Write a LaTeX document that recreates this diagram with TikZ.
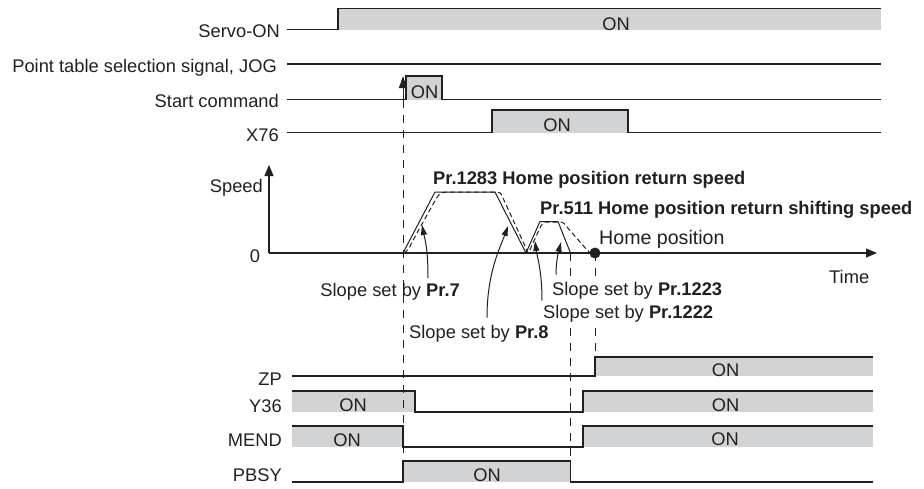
\documentclass[tikz,border=0pt]{standalone}
\usepackage{fontspec}
\setmainfont{Liberation Sans}
\usetikzlibrary{arrows.meta}
\definecolor{onfill}{RGB}{209,211,212}
\definecolor{ink}{RGB}{35,31,32}
\newcommand{\drawon}[4]{
    % gray band of a signal while it is ON: x from #1 to #2, top #3, bottom #4
    \fill[onfill] (#1,#3) rectangle (#2,#4);
}

\begin{document}
\begin{tikzpicture}[x=1pt,y=-1pt,
    sig/.style={ink,line width=1.1pt},
    guide/.style={ink,line width=1pt,dash pattern=on 8pt off 7pt},
    lbl/.style={anchor=base east,text=ink,inner sep=0pt},
    note/.style={anchor=base west,text=ink,inner sep=0pt},
    ontext/.style={anchor=base,text=ink,inner sep=0pt},
    pointer/.style={ink,line width=1pt,-{Triangle[length=10pt,width=6pt]}},
    font=\fontsize{18.3}{22}\selectfont]
    \useasboundingbox (0,0) rectangle (924,488);

    % gray bands
    \drawon{338}{881}{8.5}{29.5}
    \drawon{406}{442}{76}{99.5}
    \drawon{492}{628}{110}{132.5}
    \drawon{595}{873}{357}{376}
    \drawon{292}{415}{391}{412}
    \drawon{583}{873}{391}{412}
    \drawon{292}{403}{426}{447}
    \drawon{583}{873}{426}{447}
    \drawon{403}{570.5}{461}{482}

    % upper signals
    \draw[sig] (287,29.5) -- (338,29.5) -- (338,8.5) -- (881,8.5);
    \draw[sig] (287,64) -- (881,64);
    \draw[sig] (287,99.5) -- (406,99.5) -- (406,76) -- (442,76) -- (442,99.5) -- (881,99.5);
    \draw[sig] (287,132.5) -- (492,132.5) -- (492,110) -- (628,110) -- (628,132.5) -- (881,132.5);

    % lower signals
    \draw[sig] (292,376) -- (595,376) -- (595,357) -- (873,357);
    \draw[sig] (292,391) -- (415,391) -- (415,412) -- (583,412) -- (583,391) -- (873,391);
    \draw[sig] (292,426) -- (403,426) -- (403,447) -- (583,447) -- (583,426) -- (873,426);
    \draw[sig] (292,482) -- (403,482) -- (403,461) -- (570.5,461) -- (570.5,482) -- (873,482);

    % speed axes
    \coordinate (origin) at (269,253);
    \draw[sig,-{Triangle[length=11pt,width=9pt]}] (origin) -- (269,165);
    \draw[sig,-{Triangle[length=11pt,width=9pt]}] (origin) -- (877,253);

    % speed pattern, solid and dashed
    \draw[ink,line width=1pt] (403,253) -- (435,192) -- (495,192) -- (526,253) -- (540,221.5) -- (558,221.5) -- (570.5,253);
    \draw[ink,line width=1pt,dash pattern=on 5pt off 3pt] (404,253) .. controls (409,249) .. (412,242) -- (436,199)
        .. controls (440,193) .. (446,192) -- (497,192) .. controls (501,193) .. (503,198) -- (525,246)
        .. controls (527,251) .. (528,253) .. controls (530,250) .. (532,245) -- (540,228)
        .. controls (543,222) .. (548,222) -- (558,222) .. controls (563,222) .. (567,227) -- (587,250)
        .. controls (590,253) .. (594,253);
    \fill[ink] (595,253) circle[radius=5.5pt];

    % timing guides
    \draw[guide] (403,100) -- (403,482);
    \draw[guide] (570.5,253) -- (570.5,482);
    \draw[guide] (595,253) -- (595,357);
    \draw[ink,line width=1pt,-{Triangle[length=12pt,width=8pt]}] (403,100) -- (403,76);

    % signal names
    \node[lbl] (servo) at (280,37.5) {Servo-ON};
    \node[lbl] (ptsel) at (277,72.5) {Point table selection signal, JOG};
    \node[lbl] (start) at (279,107) {Start command};
    \node[lbl] (x76) at (279,141) {X76};
    \node[lbl] (zp) at (282,385) {ZP};
    \node[lbl] (y36) at (282,412.5) {Y36};
    \node[lbl] (mend) at (282,446.5) {MEND};
    \node[lbl] (pbsy) at (282,481.5) {PBSY};

    % ON texts
    \node[ontext] (servoon) at (616,30.5) {ON};
    \node[ontext] (starton) at (424.5,98) {ON};
    \node[ontext] (x76on) at (557,131.5) {ON};
    \node[ontext] (zpon) at (725.5,376) {ON};
    \node[ontext] (y36on) at (353,411) {ON};
    \node[ontext] (y36on2) at (725.5,411) {ON};
    \node[ontext] (mendon) at (347,446) {ON};
    \node[ontext] (mendon2) at (725,445) {ON};
    \node[ontext] (pbsyon) at (487,481) {ON};

    % axis and speed texts
    \node[lbl] (speed) at (263,192) {Speed};
    \node[ontext] (zero) at (255,262.5) {0};
    \node[note] (time) at (829,283) {Time};
    \node[note] (retspd) at (433,184) {\textbf{Pr.1283 Home position return speed}};
    \node[note] (shiftspd) at (540,214) {\textbf{Pr.511 Home position return shifting speed}};
    \node[note,font=\fontsize{19.6}{23}\selectfont] (homepos) at (599,244) {Home position};

    % slope notes
    \node[lbl] (slope7) at (460,296.5) {Slope set by \textbf{Pr.7}};
    \node[note] (slope8) at (409,338) {Slope set by \textbf{Pr.8}};
    \node[note,fill=white,inner ysep=3pt] (slope1222) at (543,318) {Slope set by \textbf{Pr.1222}};
    \node[note,fill=white,inner ysep=3pt] (slope1223) at (552,295) {Slope set by \textbf{Pr.1223}};
    \coordinate (tip7) at (422,225);
    \coordinate (tip8) at (508,226);
    \coordinate (tip1222) at (535,241);
    \coordinate (tip1223) at (561,242);
    \draw[pointer] ([xshift=-32pt,yshift=5pt]slope7.north east) .. controls +(0,-30) and +(3,15) .. (tip7);
    \draw[pointer] ([xshift=78pt,yshift=7pt]slope8.north west) .. controls +(0,-45) and +(-8,22) .. (tip8);
    \draw[pointer] ([xshift=-1pt,yshift=1pt]slope1222.north west) .. controls +(0,-30) and +(2,15) .. (tip1222);
    \draw[pointer] ([xshift=4pt,yshift=4pt]slope1223.north west) .. controls +(0,-15) and +(-2,8) .. (tip1223);

\end{tikzpicture}
\end{document}
